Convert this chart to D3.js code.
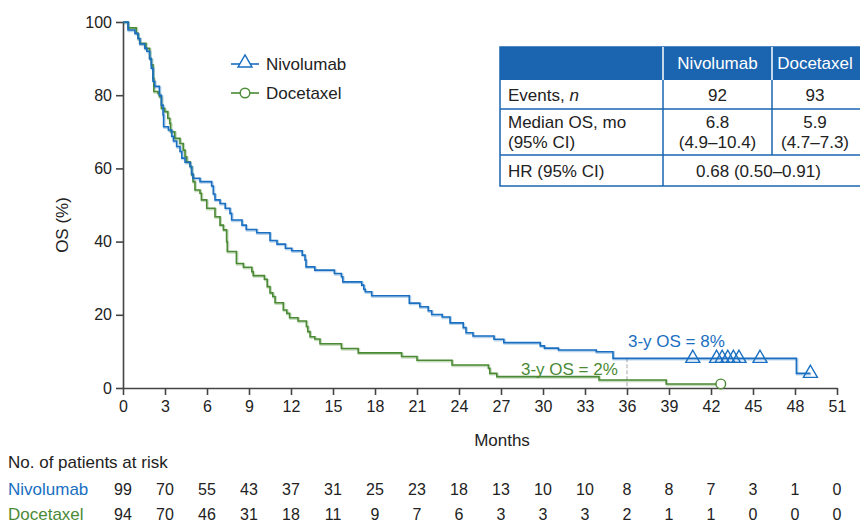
<!DOCTYPE html>
<html>
<head>
<meta charset="utf-8">
<script src="https://cdn.jsdelivr.net/npm/d3@7"></script>
<style>
  body { margin: 0; background: #fff; }
  svg { font-family: "Liberation Sans", Arial, sans-serif; }
</style>
</head>
<body>
<div id="chart"></div>
<script>
// Kaplan-Meier steps (months, OS %)
const nivoTimes = [0, 0.36, 0.85, 1.07, 1.2, 1.55, 1.7, 1.9, 2.02, 2.14, 2.26, 2.6, 2.74, 2.86, 2.9, 3.24, 3.48, 3.6, 3.83, 4.07, 4.2, 4.43, 4.79, 4.9, 5.0, 5.5, 6.33, 6.45, 6.57, 6.93, 7.3, 7.64, 7.76, 8.5, 8.8, 9.55, 10.5, 11.0, 11.6, 12.05, 12.8, 13.0, 13.07, 13.7, 15.1, 15.6, 15.7, 17.05, 17.2, 17.3, 17.76, 20.45, 21.2, 21.8, 22.05, 22.8, 23.36, 24.3, 24.5, 25.0, 26.5, 27.2, 29.8, 30.1, 31.1, 33.8, 35.0, 48.1];
const nivoSurv = [100, 97.8, 96.9, 95.5, 94.0, 92.8, 92.0, 90.0, 87.4, 83.8, 82.4, 80.0, 77.3, 74.6, 71.4, 70.5, 68.8, 67.5, 66.0, 64.6, 62.8, 61.7, 60.5, 58.5, 57.3, 56.4, 55.2, 53.0, 51.4, 50.4, 49.1, 47.7, 45.9, 44.5, 43.3, 42.4, 40.3, 39.3, 38.2, 37.5, 36.3, 35.0, 33.1, 32.2, 31.3, 30.4, 29.0, 28.1, 27.0, 26.3, 25.2, 23.2, 22.2, 21.1, 20.1, 19.4, 17.8, 16.5, 15.1, 14.2, 13.3, 12.4, 11.5, 10.9, 10.4, 9.9, 8.1, 4.0];
const nivoEnd = 49.1;
const nivoCensorT = [40.7, 42.4, 42.8, 43.2, 43.6, 44.0, 45.5, 49.1];
const nivoCensorS = [8.1, 8.1, 8.1, 8.1, 8.1, 8.1, 8.1, 4.0];

const doceTimes = [0, 0.36, 0.95, 1.07, 1.19, 1.64, 1.9, 2.02, 2.14, 2.2, 2.5, 2.6, 2.74, 2.98, 3.2, 3.34, 3.4, 3.7, 4.07, 4.3, 4.43, 4.55, 4.79, 4.9, 5.0, 5.14, 5.5, 5.6, 5.98, 6.57, 6.93, 7.17, 7.4, 7.45, 8.1, 8.6, 9.2, 9.3, 10.1, 10.3, 10.5, 10.7, 10.86, 11.45, 11.7, 11.9, 12.5, 13.1, 13.2, 13.36, 13.7, 14.07, 15.6, 16.8, 19.9, 21.0, 23.5, 26.1, 26.2, 26.7, 34.0, 38.8];
const doceSurv = [100, 98.4, 96.9, 95.5, 94.2, 92.8, 90.0, 88.3, 84.6, 81.0, 80.5, 79.6, 76.4, 75.5, 73.7, 72.3, 70.0, 68.2, 66.8, 65.0, 63.2, 61.8, 60.5, 58.2, 56.4, 54.1, 53.2, 51.4, 49.1, 46.8, 44.5, 43.2, 40.0, 37.3, 34.0, 33.0, 31.8, 30.7, 29.7, 27.7, 26.0, 25.0, 23.3, 21.3, 20.4, 19.2, 18.3, 16.8, 15.4, 14.0, 13.4, 12.1, 10.8, 9.6, 8.6, 7.6, 6.3, 5.4, 4.0, 3.1, 2.2, 1.1];
const doceEnd = 42.7;
const doceCensorT = [42.7];
const doceCensorS = [1.1];

const xTicks = [0, 3, 6, 9, 12, 15, 18, 21, 24, 27, 30, 33, 36, 39, 42, 45, 48, 51];
const yTicks = [0, 20, 40, 60, 80, 100];
const nivoRisk = [99, 70, 55, 43, 37, 31, 25, 23, 18, 13, 10, 10, 8, 8, 7, 3, 1, 0];
const doceRisk = [94, 70, 46, 31, 18, 11, 9, 7, 6, 3, 3, 3, 2, 1, 1, 0, 0, 0];

const tableHead = ["", "Nivolumab", "Docetaxel"];
const tableRows = [
  [["Events, ", "n"], ["92"], ["93"]],
  [["Median OS, mo", "(95% CI)"], ["6.8", "(4.9–10.4)"], ["5.9", "(4.7–7.3)"]],
  [["HR (95% CI)"], ["0.68 (0.50–0.91)"]]
];

const blue = "#1a6fc1", green = "#4b8a35", navy = "#1a64b0", ink = "#222";

const width = 860, height = 525;
const svg = d3.select("#chart").append("svg")
  .attr("width", width).attr("height", height);

const x = d3.scaleLinear().domain([0, 51]).range([123, 837]);
const y = d3.scaleLinear().domain([0, 100]).range([388, 22]);

// axes
const xAxis = svg.append("g")
  .attr("transform", `translate(0,${y(0)})`)
  .call(d3.axisBottom(x).tickValues(xTicks).tickSize(7).tickSizeOuter(0).tickPadding(6));
const yAxis = svg.append("g")
  .attr("transform", `translate(${x(0)},0)`)
  .call(d3.axisLeft(y).tickValues(yTicks).tickSize(7).tickSizeOuter(0).tickPadding(4));
[xAxis, yAxis].forEach(g => {
  g.selectAll("path, line").attr("stroke", "#444").attr("stroke-width", 1.6);
  g.selectAll("text").attr("fill", ink).style("font-size", "16px");
});

svg.append("text")
  .attr("x", 502).attr("y", 446)
  .attr("text-anchor", "middle").attr("fill", ink).style("font-size", "17px")
  .text("Months");
svg.append("text")
  .attr("transform", `translate(68,${y(50) + 20}) rotate(-90)`)
  .attr("text-anchor", "middle").attr("fill", ink).style("font-size", "17px")
  .text("OS (%)");

// 3-year reference line
svg.append("line")
  .attr("x1", x(36)).attr("x2", x(36))
  .attr("y1", y(8.1)).attr("y2", y(0))
  .attr("stroke", "#bbb").attr("stroke-width", 1.3).attr("stroke-dasharray", "4,2");

// curves
const line = d3.line().x(d => x(d[0])).y(d => y(d[1])).curve(d3.curveStepAfter);
function curve(times, surv, end, color) {
  const pts = times.map((t, i) => [t, surv[i]]);
  pts.push([end, surv[surv.length - 1]]);
  svg.append("path").datum(pts)
    .attr("d", line).attr("fill", "none")
    .attr("stroke", color).attr("stroke-opacity", 0.3).attr("stroke-width", 2.4)
    .attr("transform", "translate(0.8,1)");
  svg.append("path").datum(pts)
    .attr("d", line).attr("fill", "none")
    .attr("stroke", color).attr("stroke-width", 1.6);
}
curve(doceTimes, doceSurv, doceEnd, green);
curve(nivoTimes, nivoSurv, nivoEnd, blue);

const tri = d3.symbol(d3.symbolTriangle, 85);
svg.selectAll(".cn").data(nivoCensorT).enter().append("path")
  .attr("d", tri)
  .attr("transform", (d, i) => `translate(${x(d)},${y(nivoCensorS[i])})`)
  .attr("fill", "none").attr("stroke", blue).attr("stroke-width", 1.4);
svg.selectAll(".cd").data(doceCensorT).enter().append("circle")
  .attr("cx", d => x(d)).attr("cy", (d, i) => y(doceCensorS[i])).attr("r", 4.8)
  .attr("fill", "#fff").attr("stroke", green).attr("stroke-width", 1.4);

svg.append("text").attr("x", 628).attr("y", 347)
  .attr("fill", blue).style("font-size", "17px").text("3-y OS = 8%");
svg.append("text").attr("x", 521).attr("y", 375)
  .attr("fill", green).style("font-size", "17px").text("3-y OS = 2%");

// legend
const legend = [["Nivolumab", blue, "tri"], ["Docetaxel", green, "circ"]];
legend.forEach((d, i) => {
  const ly = 64 + i * 29;
  svg.append("line").attr("x1", 231).attr("x2", 259).attr("y1", ly).attr("y2", ly)
    .attr("stroke", d[1]).attr("stroke-width", 1.6);
  if (d[2] === "tri") {
    svg.append("path").attr("d", d3.symbol(d3.symbolTriangle, 85))
      .attr("transform", `translate(245,${ly - 1})`)
      .attr("fill", "#fff").attr("stroke", d[1]).attr("stroke-width", 1.4);
  } else {
    svg.append("circle").attr("cx", 245).attr("cy", ly).attr("r", 4.8)
      .attr("fill", "#fff").attr("stroke", d[1]).attr("stroke-width", 1.4);
  }
  svg.append("text").attr("x", 266).attr("y", ly + 6)
    .attr("fill", ink).style("font-size", "17px").text(d[0]);
});

// summary table
const colX = [500, 663, 772, 862];
const rowY = [47, 80, 109, 155, 186];
const tbl = svg.append("g");
tbl.append("rect").attr("x", colX[0]).attr("y", rowY[0])
  .attr("width", colX[3] - colX[0]).attr("height", rowY[1] - rowY[0]).attr("fill", navy);
tbl.append("rect").attr("x", colX[0]).attr("y", rowY[0])
  .attr("width", colX[3] - colX[0]).attr("height", rowY[4] - rowY[0])
  .attr("fill", "none").attr("stroke", navy).attr("stroke-width", 1.5);
[rowY[2], rowY[3]].forEach(ry => tbl.append("line")
  .attr("x1", colX[0]).attr("x2", colX[3]).attr("y1", ry).attr("y2", ry)
  .attr("stroke", navy).attr("stroke-width", 1.5));
tbl.append("line").attr("x1", colX[1]).attr("x2", colX[1]).attr("y1", rowY[0]).attr("y2", rowY[4])
  .attr("stroke", navy).attr("stroke-width", 1.5);
tbl.append("line").attr("x1", colX[1]).attr("x2", colX[1]).attr("y1", rowY[0]).attr("y2", rowY[1])
  .attr("stroke", "#fff").attr("stroke-width", 1.5);
tbl.append("line").attr("x1", colX[2]).attr("x2", colX[2]).attr("y1", rowY[0]).attr("y2", rowY[1])
  .attr("stroke", "#fff").attr("stroke-width", 1.5);
tbl.append("line").attr("x1", colX[2]).attr("x2", colX[2]).attr("y1", rowY[1]).attr("y2", rowY[3])
  .attr("stroke", navy).attr("stroke-width", 1.5);

tableHead.forEach((h, j) => {
  if (!h) return;
  tbl.append("text").attr("x", (colX[j] + colX[j + 1]) / 2 - (j === 2 ? 2 : 0)).attr("y", 69)
    .attr("text-anchor", "middle").attr("fill", "#fff").style("font-size", "17px").text(h);
});
tableRows.forEach((row, r) => {
  const top = rowY[r + 1], bot = rowY[r + 2];
  row.forEach((cell, j) => {
    const merged = row.length === 2 && j === 1;
    const cx = j === 0 ? colX[0] + 8 : merged ? (colX[1] + colX[3]) / 2 - 4 : (colX[j] + colX[j + 1]) / 2 - (j === 2 ? 2 : 0);
    const anchor = j === 0 ? "start" : "middle";
    if (j === 0 && r === 0) {
      const t = tbl.append("text").attr("x", cx).attr("y", (top + bot) / 2 + 6)
        .attr("fill", ink).style("font-size", "17px");
      t.append("tspan").text(cell[0]);
      t.append("tspan").attr("font-style", "italic").text(cell[1]);
      return;
    }
    const lines = cell.length;
    cell.forEach((s, k) => {
      const cy = (top + bot) / 2 + 6 + (k - (lines - 1) / 2) * 20;
      tbl.append("text").attr("x", cx).attr("y", cy).attr("text-anchor", anchor)
        .attr("fill", ink).style("font-size", "17px").text(s);
    });
  });
});

// patients at risk
svg.append("text").attr("x", 8).attr("y", 468)
  .attr("fill", ink).style("font-size", "17px").text("No. of patients at risk");
const riskRows = [["Nivolumab", nivoRisk, blue, 495], ["Docetaxel", doceRisk, green, 520]];
riskRows.forEach(([name, vals, color, ry]) => {
  svg.append("text").attr("x", 8).attr("y", ry)
    .attr("fill", color).style("font-size", "17px").text(name);
  svg.selectAll(null).data(vals).enter().append("text")
    .attr("x", (d, i) => x(xTicks[i])).attr("y", ry)
    .attr("text-anchor", "middle").attr("fill", ink).style("font-size", "16px")
    .text(d => d);
});
</script>
</body>
</html>
